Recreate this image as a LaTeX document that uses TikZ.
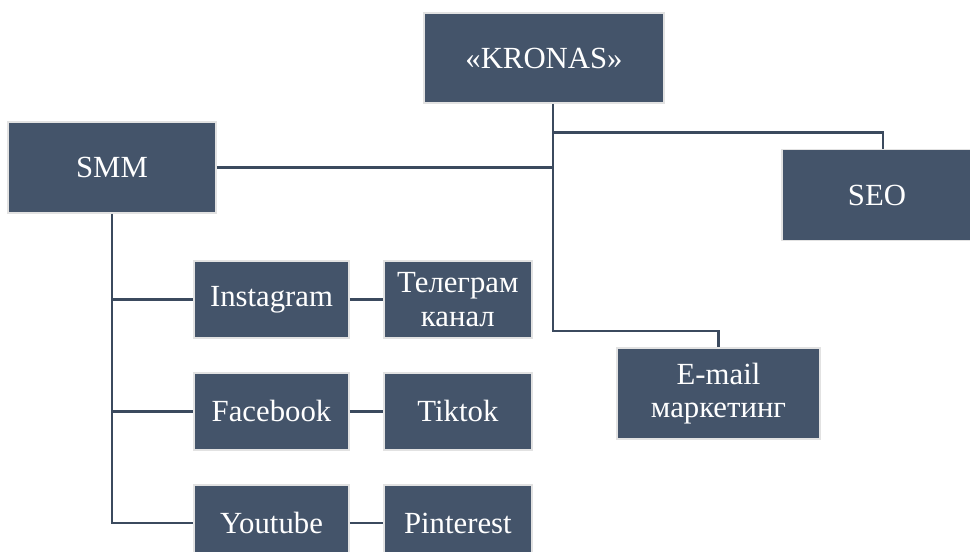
\documentclass[tikz,border=0pt]{standalone}
\usepackage{fontspec}
\setmainfont{Liberation Serif}
\newfontfamily\boxfont{Liberation Serif}
\usetikzlibrary{positioning, calc}
\definecolor{slateblue}{HTML}{44546A}
\definecolor{rimgray}{HTML}{E2E2E2}
\definecolor{linkblue}{HTML}{3B4A5E}
\tikzset{
  unit/.style={draw=rimgray, line width=1.1pt, fill=slateblue, text=white, align=center, font=\boxfont\fontsize{17.5}{19}\selectfont},
  big/.style={unit, minimum width=4.16cm, minimum height=1.82cm},
  small/.style={unit, minimum width=3.1cm, minimum height=1.54cm},
  pair/.style={unit, minimum width=2.96cm, minimum height=1.54cm},
  link/.style={draw=linkblue, line width=1.3pt},
  every node/.style={inner sep=0}
}

\begin{document}
\begin{tikzpicture}[x=0.02cm, y=-0.02cm]
    \useasboundingbox (0,0) rectangle (970,551);
    \clip (0,0) rectangle (970,551);
    \node[unit, minimum width=4.8cm, minimum height=1.8cm] (kronas) at (544,58) {«KRONAS»};
    \node[big] (smm) at (112,167.5) {SMM};
    \node[big, minimum width=3.8cm] (seo) at (877,195) {SEO};
    \node[big, minimum width=4.06cm] (email) at (718.5,393.5) {E-mail\\маркетинг};
    \node[small] (insta) at (271.5,299.5) {Instagram};
    \node[pair, right=0.66cm of insta] (telegram) {Телеграм\\канал};
    \node[small, below=0.66cm of insta] (facebook) {Facebook};
    \node[pair, right=0.66cm of facebook] (tiktok) {Tiktok};
    \node[small, below=0.66cm of facebook] (youtube) {Youtube};
    \node[pair, right=0.66cm of youtube] (pinterest) {Pinterest};
    % trunk from the top box
    \coordinate (hub) at ($(kronas.south)+(9,0)$);
    \coordinate (seotop) at ($(seo.north)+(6,0)$);
    \draw[link] (smm.east) -- (smm.east -| hub);
    \draw[link] (seotop) -- ++(0,-16) -| (hub);
    \draw[link] (hub) |- ($(email.north)-(0,16)$) -- (email.north);
    % smm branches
    \draw[link] (smm.south) |- (youtube.west);
    \draw[link] (smm.south |- insta.west) -- (insta.west);
    \draw[link] (smm.south |- facebook.west) -- (facebook.west);
    \draw[link] (insta) -- (telegram);
    \draw[link] (facebook) -- (tiktok);
    \draw[link] (youtube) -- (pinterest);
\end{tikzpicture}
\end{document}
